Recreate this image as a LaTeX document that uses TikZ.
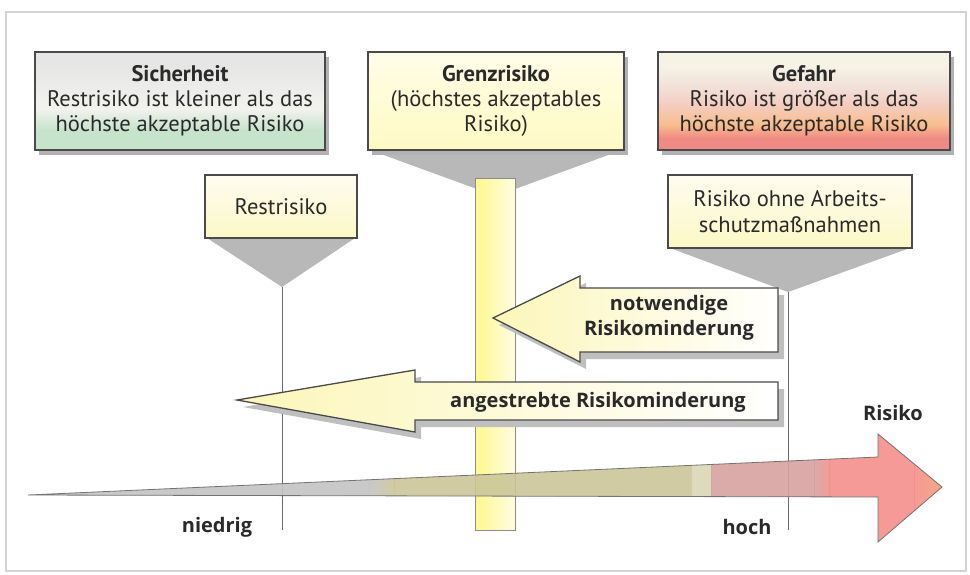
\documentclass[tikz,border=0pt]{standalone}
\usepackage{fontspec}
\setmainfont{PT Sans}
\newfontfamily\labelfont{Open Sans}
\usetikzlibrary{shadows}

\definecolor{ink}{HTML}{2A2A2A}
\definecolor{boxline}{HTML}{4A4A4A}
\definecolor{framegrey}{HTML}{D4D4D4}
\definecolor{funnel}{HTML}{B8B8B8}
\definecolor{vline}{HTML}{6A6A6A}
\definecolor{creamtop}{HTML}{FDFCF0}
\definecolor{creambot}{HTML}{FCF8C6}
\definecolor{sgreen}{HTML}{C6E3CB}
\definecolor{slight}{HTML}{F2F2EE}
\definecolor{sgrey}{HTML}{E6E6E6}
\definecolor{gred}{HTML}{F08A84}
\definecolor{gorange}{HTML}{F8BE8E}
\definecolor{gpink}{HTML}{F4CCC0}
\definecolor{glight}{HTML}{F2E2DA}
\definecolor{gcream}{HTML}{F6F3E6}
\definecolor{ytop}{HTML}{FFFDE8}
\definecolor{ybot}{HTML}{FFFAC2}
\definecolor{barY}{HTML}{FFF88E}
\definecolor{barL}{HTML}{FFFCE0}
\definecolor{arrowY}{HTML}{FCF6B8}
\definecolor{axgrey}{HTML}{C4C4C4}
\definecolor{axolive}{HTML}{CBC698}
\definecolor{axrose}{HTML}{D6A2A0}
\definecolor{axsalmon}{HTML}{F5908C}
\definecolor{axorange}{HTML}{F2A070}

% vertical colour bands of the two outer title boxes
\pgfdeclareverticalshading{sicher}{100bp}{color(0bp)=(sgreen); color(25bp)=(sgreen);
  color(35bp)=(sgreen); color(46bp)=(slight); color(68bp)=(sgrey); color(100bp)=(sgrey)}
\pgfdeclareverticalshading{gefahr}{100bp}{color(0bp)=(gred); color(25bp)=(gred);
  color(31bp)=(gred); color(38bp)=(gorange); color(48bp)=(gpink); color(58bp)=(glight);
  color(68bp)=(gcream); color(100bp)=(gcream)}

\tikzset{
  titlebox/.style={draw=boxline, line width=1.4pt, inner sep=0pt, align=center,
    text=ink, font=\fontsize{22.5}{25}\selectfont,
    drop shadow={shadow xshift=4pt, shadow yshift=-5pt, fill=black!30, opacity=1}},
  labelbox/.style={draw=boxline, line width=1.3pt, inner sep=0pt, align=center,
    text=ink, font=\fontsize{22.5}{26}\selectfont, top color=creamtop, bottom color=creambot},
  marker/.style={draw=vline, line width=1pt},
  bigarrow/.style={draw=boxline, line width=1.3pt, left color=arrowY, right color=white},
  arrowshade/.style={fill=black!25},
  boldlabel/.style={font=\labelfont\bfseries\fontsize{20}{25}\selectfont, text=ink, align=center}
}

\begin{document}
\begin{tikzpicture}[x=1pt,y=-1pt]
\useasboundingbox (0,0) rectangle (970,574);
\fill[white] (0,0) rectangle (970,574);
\draw[framegrey, line width=1.5pt] (6,12) rectangle (966,571);

% grey funnels under the boxes
\fill[funnel] (370,150) -- (622,150) -- (496,196) -- cycle;
\fill[funnel] (207,238) -- (355,238) -- (282,287) -- cycle;
\fill[funnel] (670,248) -- (910,248) -- (788,292) -- cycle;

% marker lines on the scale
\coordinate (restTip) at (282,287);
\coordinate (restFoot) at (282,530);
\coordinate (ohneTip) at (788,292);
\coordinate (ohneFoot) at (788,530);
\draw[marker] (restTip) -- (restFoot);
\draw[marker] (ohneTip) -- (ohneFoot);

% yellow bar of the limit risk
\draw[draw=black!45, line width=1pt, left color=barY, right color=barL]
  (475,178) rectangle (515,530);

% title boxes
\node[titlebox, shading=sicher, minimum width=290pt, minimum height=98pt] (sicher) at (180,101)
  {\textbf{Sicherheit}\\Restrisiko ist kleiner als das\\höchste akzeptable Risiko};
\node[titlebox, top color=ytop, bottom color=ybot, minimum width=256pt, minimum height=98pt] (grenz) at (496,101)
  {\textbf{Grenzrisiko}\\(höchstes akzeptables\\Risiko)};
\node[titlebox, shading=gefahr, minimum width=292pt, minimum height=98pt] (gefahr) at (804,101)
  {\textbf{Gefahr}\\Risiko ist größer als das\\höchste akzeptable Risiko};

% boxes above the marker lines
\node[labelbox, minimum width=152pt, minimum height=63pt] (rest) at (281,206.5) {Restrisiko};
\node[labelbox, minimum width=244pt, minimum height=73pt] (ohne) at (790,211.5)
  {Risiko ohne Arbeits-\\schutzmaßnahmen};

% arrow: necessary risk reduction
\fill[arrowshade] (499,325) -- (586,283) -- (586,295) -- (784,295) -- (784,359) -- (586,359) -- (586,369) -- cycle;
\path[bigarrow] (493,318) -- (580,276) -- (580,288) -- (778,288) -- (778,352) -- (580,352) -- (580,362) -- cycle;
\node[boldlabel] (notw) at (669,318) {notwendige\\Risikominderung};

% arrow: targeted risk reduction
\fill[arrowshade] (243,407) -- (421,377) -- (421,389) -- (784,389) -- (784,427) -- (421,427) -- (421,439) -- cycle;
\path[bigarrow] (237,400) -- (415,370) -- (415,382) -- (778,382) -- (778,420) -- (415,420) -- (415,432) -- cycle;
\node[boldlabel] (anges) at (598,402) {angestrebte Risikominderung};

% risk scale
\begin{scope}[opacity=0.9]
\clip (28,495) -- (878,457) -- (878,434) -- (942,487) -- (878,542) -- (878,497) -- cycle;
\fill[axgrey] (20,420) rectangle (370,560);
\shade[left color=axgrey, right color=axolive] (369,420) rectangle (395,560);
\fill[axolive] (394,420) rectangle (692,560);
\fill[axolive!70!white] (692,420) rectangle (712,560);
\fill[axrose] (711,420) rectangle (815,560);
\shade[left color=axrose, right color=axsalmon] (814,420) rectangle (830,560);
\fill[axsalmon] (829,420) rectangle (915,560);
\shade[left color=axsalmon, right color=axorange] (914,420) rectangle (950,560);
\end{scope}
\draw[black!55, line width=0.8pt] (28,495) -- (878,457) -- (878,434) -- (942,487) -- (878,542) -- (878,497) -- cycle;

\node[boldlabel] (risiko) at (893,413) {Risiko};
\node[boldlabel] (niedrig) at (217,527) {niedrig};
\node[boldlabel] (hoch) at (747,527) {hoch};
\end{tikzpicture}
\end{document}
